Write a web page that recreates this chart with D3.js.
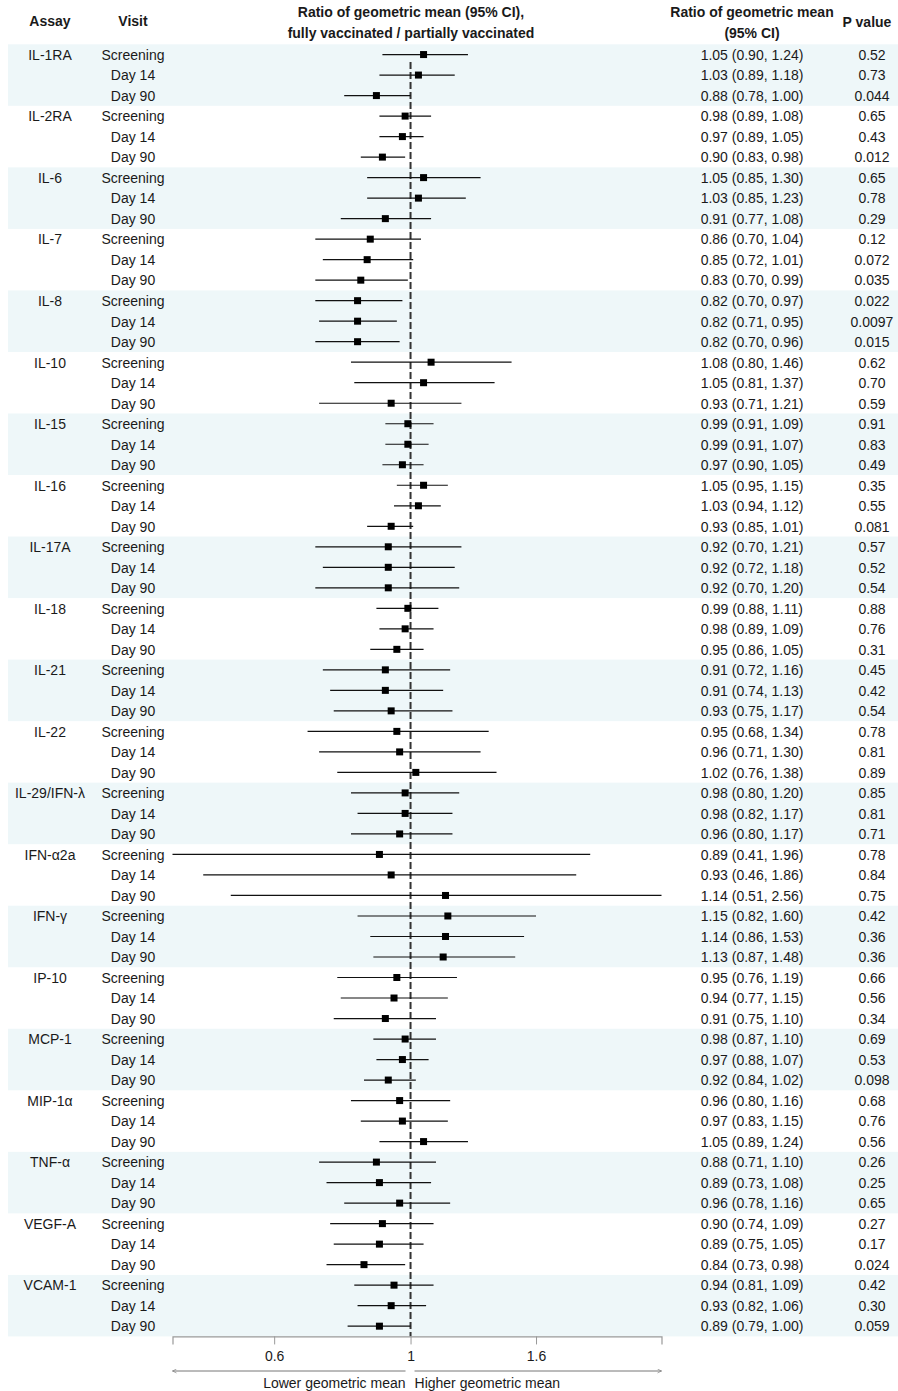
<!DOCTYPE html>
<html>
<head>
<meta charset="utf-8">
<script src="https://cdn.jsdelivr.net/npm/d3@7"></script>
<style>
  html, body { margin: 0; padding: 0; background: #fff; }
  svg { display: block; font-family: "Liberation Sans", Arial, sans-serif; }
</style>
</head>
<body>
<svg id="chart" width="898" height="1391"></svg>
<script>
// Assays, three visits each
const assays = ["IL-1RA", "IL-2RA", "IL-6", "IL-7", "IL-8", "IL-10", "IL-15", "IL-16", "IL-17A",
  "IL-18", "IL-21", "IL-22", "IL-29/IFN-λ", "IFN-α2a", "IFN-γ", "IP-10", "MCP-1", "MIP-1α",
  "TNF-α", "VEGF-A", "VCAM-1"];
const visits = ["Screening", "Day 14", "Day 90"];

// Ratio of geometric mean (fully / partially vaccinated), per assay x visit
const ratio = [
  1.05, 1.03, 0.88,
  0.98, 0.97, 0.90,
  1.05, 1.03, 0.91,
  0.86, 0.85, 0.83,
  0.82, 0.82, 0.82,
  1.08, 1.05, 0.93,
  0.99, 0.99, 0.97,
  1.05, 1.03, 0.93,
  0.92, 0.92, 0.92,
  0.99, 0.98, 0.95,
  0.91, 0.91, 0.93,
  0.95, 0.96, 1.02,
  0.98, 0.98, 0.96,
  0.89, 0.93, 1.14,
  1.15, 1.14, 1.13,
  0.95, 0.94, 0.91,
  0.98, 0.97, 0.92,
  0.96, 0.97, 1.05,
  0.88, 0.89, 0.96,
  0.90, 0.89, 0.84,
  0.94, 0.93, 0.89
];
const lower = [
  0.90, 0.89, 0.78,
  0.89, 0.89, 0.83,
  0.85, 0.85, 0.77,
  0.70, 0.72, 0.70,
  0.70, 0.71, 0.70,
  0.80, 0.81, 0.71,
  0.91, 0.91, 0.90,
  0.95, 0.94, 0.85,
  0.70, 0.72, 0.70,
  0.88, 0.89, 0.86,
  0.72, 0.74, 0.75,
  0.68, 0.71, 0.76,
  0.80, 0.82, 0.80,
  0.41, 0.46, 0.51,
  0.82, 0.86, 0.87,
  0.76, 0.77, 0.75,
  0.87, 0.88, 0.84,
  0.80, 0.83, 0.89,
  0.71, 0.73, 0.78,
  0.74, 0.75, 0.73,
  0.81, 0.82, 0.79
];
const upper = [
  1.24, 1.18, 1.00,
  1.08, 1.05, 0.98,
  1.30, 1.23, 1.08,
  1.04, 1.01, 0.99,
  0.97, 0.95, 0.96,
  1.46, 1.37, 1.21,
  1.09, 1.07, 1.05,
  1.15, 1.12, 1.01,
  1.21, 1.18, 1.20,
  1.11, 1.09, 1.05,
  1.16, 1.13, 1.17,
  1.34, 1.30, 1.38,
  1.20, 1.17, 1.17,
  1.96, 1.86, 2.56,
  1.60, 1.53, 1.48,
  1.19, 1.15, 1.10,
  1.10, 1.07, 1.02,
  1.16, 1.15, 1.24,
  1.10, 1.08, 1.16,
  1.09, 1.05, 0.98,
  1.09, 1.06, 1.00
];
const pValues = [
  "0.52", "0.73", "0.044",
  "0.65", "0.43", "0.012",
  "0.65", "0.78", "0.29",
  "0.12", "0.072", "0.035",
  "0.022", "0.0097", "0.015",
  "0.62", "0.70", "0.59",
  "0.91", "0.83", "0.49",
  "0.35", "0.55", "0.081",
  "0.57", "0.52", "0.54",
  "0.88", "0.76", "0.31",
  "0.45", "0.42", "0.54",
  "0.78", "0.81", "0.89",
  "0.85", "0.81", "0.71",
  "0.78", "0.84", "0.75",
  "0.42", "0.36", "0.36",
  "0.66", "0.56", "0.34",
  "0.69", "0.53", "0.098",
  "0.68", "0.76", "0.56",
  "0.26", "0.25", "0.65",
  "0.27", "0.17", "0.024",
  "0.42", "0.30", "0.059"
];
const axisTicks = [0.6, 1, 1.6];
const xDomain = [0.41, 2.56];

const rows = [];
assays.forEach((a, i) => visits.forEach((v, j) => {
  const k = i * visits.length + j;
  rows.push({ assay: a, group: i, visit: v, first: j === 0,
    est: ratio[k], lo: lower[k], hi: upper[k], p: pValues[k] });
}));

const W = 898;
const topY = 44.3, rowH = 20.51;
const svg = d3.select("#chart");

const x = d3.scaleLog().domain(xDomain).range([172.5, 661.5]);
const y = d3.scaleBand().domain(d3.range(rows.length))
  .range([topY, topY + rowH * rows.length]);
const yc = i => y(i) + y.bandwidth() / 2;

const fmt = d3.format(".2f");
const colAssay = 50, colVisit = 133, colRatio = 752, colP = 872;
const txt = "#1a1a1a";

// Alternating group bands
svg.append("g").selectAll("rect")
  .data(assays.map((a, i) => i).filter(i => i % 2 === 0))
  .join("rect")
  .attr("x", 8).attr("width", W - 8)
  .attr("y", i => y(i * 3)).attr("height", rowH * 3)
  .attr("fill", "#eef7f9");

// Header
const head = svg.append("g").attr("font-weight", "bold").attr("font-size", 14)
  .attr("fill", txt).attr("text-anchor", "middle");
head.append("text").attr("x", colAssay).attr("y", 26).text("Assay");
head.append("text").attr("x", colVisit).attr("y", 26).text("Visit");
head.append("text").attr("x", 411).attr("y", 17).text("Ratio of geometric mean (95% CI),");
head.append("text").attr("x", 411).attr("y", 38).text("fully vaccinated / partially vaccinated");
head.append("text").attr("x", colRatio).attr("y", 17).text("Ratio of geometric mean");
head.append("text").attr("x", colRatio).attr("y", 38).text("(95% CI)");
head.append("text").attr("x", 867).attr("y", 27).text("P value");

// Row texts
const body = svg.append("g").attr("font-size", 14).attr("fill", txt)
  .attr("text-anchor", "middle");
body.selectAll("text.assay").data(rows.map((r, i) => ({ r, i })).filter(d => d.r.first))
  .join("text").attr("class", "assay")
  .attr("x", colAssay).attr("y", d => yc(d.i)).attr("dy", "0.38em")
  .text(d => d.r.assay);
body.selectAll("text.visit").data(rows)
  .join("text").attr("class", "visit")
  .attr("x", colVisit).attr("y", (d, i) => yc(i)).attr("dy", "0.38em")
  .text(d => d.visit);
body.selectAll("text.ci").data(rows)
  .join("text").attr("class", "ci")
  .attr("x", colRatio).attr("y", (d, i) => yc(i)).attr("dy", "0.38em")
  .text(d => `${fmt(d.est)} (${fmt(d.lo)}, ${fmt(d.hi)})`);
body.selectAll("text.p").data(rows)
  .join("text").attr("class", "p")
  .attr("x", colP).attr("y", (d, i) => yc(i)).attr("dy", "0.38em")
  .text(d => d.p);

// Reference line at ratio 1
svg.append("line")
  .attr("x1", x(1)).attr("x2", x(1))
  .attr("y1", 62).attr("y2", topY + rowH * rows.length)
  .attr("stroke", "#333").attr("stroke-width", 2)
  .attr("stroke-dasharray", "7,3");

// Confidence intervals and point estimates
const marks = svg.append("g");
marks.selectAll("line").data(rows).join("line")
  .attr("x1", d => x(d.lo)).attr("x2", d => x(d.hi))
  .attr("y1", (d, i) => yc(i)).attr("y2", (d, i) => yc(i))
  .attr("stroke", "#111").attr("stroke-width", 1.2);
marks.selectAll("rect").data(rows).join("rect")
  .attr("x", d => x(d.est) - 3.5).attr("y", (d, i) => yc(i) - 3.5)
  .attr("width", 7).attr("height", 7).attr("fill", "#000");

// Bottom axis
const axisY = topY + rowH * rows.length;
const axisG = svg.append("g").attr("transform", `translate(0,${axisY})`)
  .call(d3.axisBottom(x).tickValues(axisTicks).tickFormat(d3.format("")).tickSizeOuter(0).tickSize(8).tickPadding(7));
axisG.select(".domain").attr("stroke", "#999").attr("stroke-width", 1.2);
axisG.selectAll(".tick line").attr("stroke", "#999");
axisG.selectAll(".tick text").attr("font-size", 14).attr("fill", txt)
  .attr("font-family", "Liberation Sans, Arial, sans-serif");

// Direction arrows
const arrowY = 1371;
const defs = svg.append("defs");
["L", "R"].forEach(k => {
  defs.append("marker").attr("id", "arr" + k)
    .attr("viewBox", "0 0 10 10").attr("refX", k === "R" ? 9 : 1).attr("refY", 5)
    .attr("markerWidth", 7).attr("markerHeight", 5).attr("orient", "auto")
    .attr("markerUnits", "userSpaceOnUse")
    .append("path")
    .attr("d", k === "R" ? "M1,1 L9,5 L1,9" : "M9,1 L1,5 L9,9")
    .attr("fill", "none").attr("stroke", "#777").attr("stroke-width", 1.2);
});
svg.append("line").attr("x1", x(xDomain[0])).attr("x2", x(1) - 5)
  .attr("y1", arrowY).attr("y2", arrowY)
  .attr("stroke", "#777").attr("stroke-width", 1).attr("marker-start", "url(#arrL)");
svg.append("line").attr("x1", x(1) + 4).attr("x2", x(xDomain[1]))
  .attr("y1", arrowY).attr("y2", arrowY)
  .attr("stroke", "#777").attr("stroke-width", 1).attr("marker-end", "url(#arrR)");
svg.append("text").attr("x", x(1) - 5).attr("y", 1388).attr("text-anchor", "end")
  .attr("font-size", 14).attr("fill", txt).text("Lower geometric mean");
svg.append("text").attr("x", x(1) + 4).attr("y", 1388).attr("text-anchor", "start")
  .attr("font-size", 14).attr("fill", txt).text("Higher geometric mean");
</script>
</body>
</html>
